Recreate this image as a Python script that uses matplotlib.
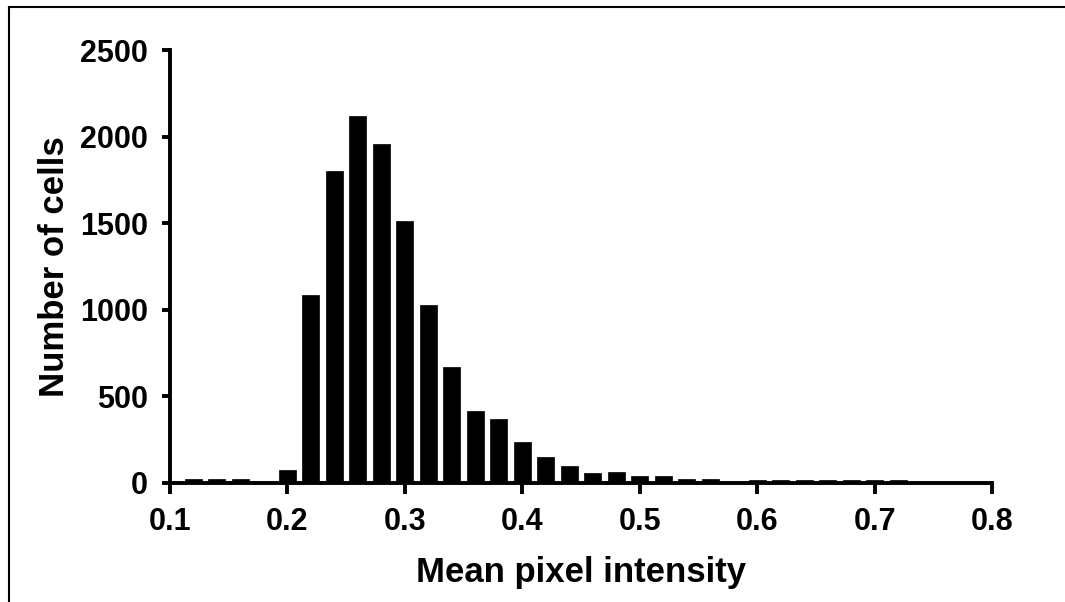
import numpy as np
import matplotlib.pyplot as plt
from matplotlib.lines import Line2D

plt.rcParams['font.family'] = ['Liberation Sans', 'DejaVu Sans']
plt.rcParams['font.weight'] = 'bold'

# histogram bins (centres) and counts
bin_centers = [0.12, 0.14, 0.16, 0.18, 0.20, 0.22, 0.24, 0.26, 0.28, 0.30,
               0.32, 0.34, 0.36, 0.38, 0.40, 0.42, 0.44, 0.46, 0.48, 0.50,
               0.52, 0.54, 0.56, 0.58, 0.60, 0.62, 0.64, 0.66, 0.68, 0.70, 0.72]
counts = [22, 22, 22, 0, 75, 1083, 1802, 2121, 1956, 1513,
          1030, 670, 413, 369, 235, 150, 97, 56, 62, 40,
          40, 25, 21, 0, 20, 20, 20, 20, 20, 20, 20]
xticks = [0.1, 0.2, 0.3, 0.4, 0.5, 0.6, 0.7, 0.8]
yticks = [0, 500, 1000, 1500, 2000, 2500]

fig = plt.figure(figsize=(10.65, 6.02), dpi=100)
ax = fig.add_axes([170 / 1065, 119 / 602, 822 / 1065, 433 / 602])

ax.bar(bin_centers, counts, width=0.0145, color='black', edgecolor='black', linewidth=0.5)

ax.set_xlim(0.1, 0.8)
ax.set_ylim(0, 2500)
ax.set_xticks(xticks)
ax.set_xticklabels([f"{t:.1f}" for t in xticks])
ax.set_yticks(yticks)

for side in ['top', 'right']:
    ax.spines[side].set_visible(False)
for side in ['left', 'bottom']:
    ax.spines[side].set_linewidth(2.8)
ax.tick_params(axis='x', length=8, width=2.8, labelsize=22, pad=9)
ax.tick_params(axis='y', length=6, width=2.8, labelsize=22, pad=10)

ax.set_xlabel("Mean pixel intensity", fontsize=25, fontweight='bold', labelpad=14)
ax.set_ylabel("Number of cells", fontsize=25, fontweight='bold', labelpad=6)

# border of the panel (left and top only)
fx = 9 / 1065
fy = 1 - 6.5 / 602
fig.add_artist(Line2D([fx, fx], [0, fy], transform=fig.transFigure, color='black', linewidth=1.5))
fig.add_artist(Line2D([fx, 1], [fy, fy], transform=fig.transFigure, color='black', linewidth=1.5))

fig.savefig("out.png", dpi=100, facecolor='white')
